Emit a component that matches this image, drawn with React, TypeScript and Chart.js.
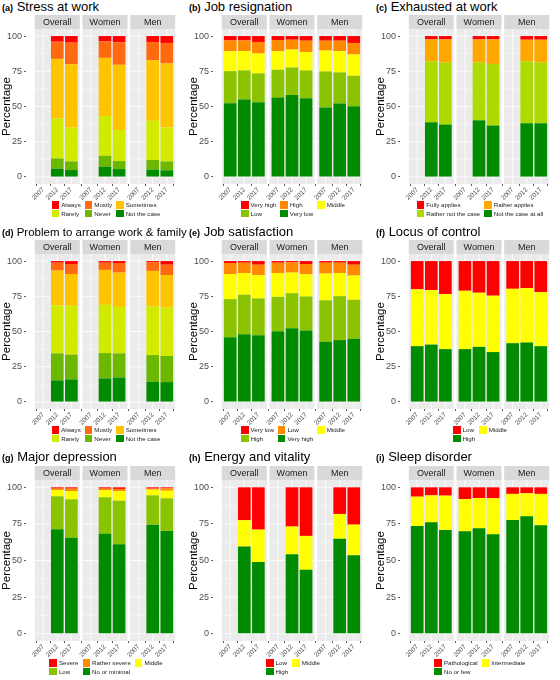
import React, { useEffect, useRef } from "react";
import { Chart, registerables } from "chart.js";

Chart.register(...registerables);

const FONT = '"Liberation Sans", Arial, Helvetica, sans-serif';

const facets = ["Overall", "Women", "Men"];
const years = ["2007", "2012", "2017"];
const yTicks = [0, 25, 50, 75, 100];
const yMinor = [12.5, 37.5, 62.5, 87.5];

// every row: Overall 2007/2012/2017, Women 2007/2012/2017, Men 2007/2012/2017
const stressLevels = ["Always", "Mostly", "Sometimes", "Rarely", "Never", "Not the case"];
const stressValues = [
  [null, 4.0, 4.7, null, 3.8, 4.5, null, 4.2, 4.9],
  [null, 12.2, 15.3, null, 11.7, 15.9, null, 12.9, 14.6],
  [null, 42.3, 45.0, null, 41.3, 46.3, null, 43.0, 45.3],
  [null, 28.4, 24.0, null, 28.2, 22.0, null, 27.9, 24.2],
  [null, 7.2, 6.1, null, 7.7, 5.7, null, 6.8, 6.3],
  [null, 5.9, 4.9, null, 7.3, 5.6, null, 5.2, 4.7],
];

const resignLevels = ["Very high", "High", "Middle", "Low", "Very low"];
const resignValues = [
  [3.1, 3.1, 4.2, 2.8, 2.6, 3.3, 3.3, 3.3, 4.9],
  [7.7, 7.5, 8.2, 8.0, 7.0, 8.0, 7.0, 7.5, 8.2],
  [14.1, 13.8, 14.1, 13.1, 12.7, 13.1, 14.8, 15.0, 15.1],
  [22.8, 20.7, 20.4, 19.8, 19.5, 19.7, 25.6, 22.1, 21.6],
  [52.3, 54.9, 53.1, 56.3, 58.2, 55.9, 49.3, 52.1, 50.2],
];

const exhaustLevels = ["Fully applies", "Rather applies", "Rather not the case", "Not the case at all"];
const exhaustValues = [
  [null, 2.4, 2.4, null, 2.4, 2.4, null, 2.6, 2.6],
  [null, 15.5, 16.4, null, 16.4, 17.4, null, 15.3, 16.0],
  [null, 43.3, 44.0, null, 41.0, 43.7, null, 44.0, 43.3],
  [null, 38.8, 37.2, null, 40.2, 36.5, null, 38.1, 38.1],
];

const familyLevels = ["Always", "Mostly", "Sometimes", "Rarely", "Never", "Not the case"];
const familyValues = [
  [null, 1.2, 2.1, null, 1.2, 1.4, null, 0.9, 2.6],
  [null, 5.6, 7.1, null, 5.1, 6.8, null, 6.1, 7.3],
  [null, 24.7, 22.5, null, 24.7, 24.4, null, 25.2, 23.0],
  [null, 34.0, 34.7, null, 34.3, 32.9, null, 34.5, 34.5],
  [null, 19.2, 17.6, null, 18.0, 17.1, null, 19.0, 18.5],
  [null, 15.3, 16.0, null, 16.7, 17.4, null, 14.3, 14.1],
];

const satisLevels = ["Very low", "Low", "Middle", "High", "Very high"];
const satisValues = [
  [1.4, 1.2, 2.6, 1.2, 0.9, 2.1, 1.2, 1.2, 2.6],
  [7.8, 7.3, 7.5, 7.3, 7.3, 7.3, 7.7, 7.3, 7.7],
  [17.8, 15.4, 16.4, 16.9, 14.6, 15.7, 19.0, 16.4, 17.2],
  [27.0, 28.0, 26.1, 24.4, 24.9, 24.2, 29.4, 31.2, 27.7],
  [46.0, 48.1, 47.4, 50.2, 52.3, 50.7, 42.7, 43.9, 44.8],
];

const locusLevels = ["Low", "Middle", "High"];
const locusValues = [
  [20.1, 20.6, 23.4, 21.1, 22.5, 24.6, 19.7, 19.2, 22.0],
  [40.3, 38.7, 39.1, 41.4, 38.4, 40.0, 38.6, 38.6, 38.4],
  [39.6, 40.7, 37.5, 37.5, 39.1, 35.4, 41.7, 42.2, 39.6],
];

const deprLevels = ["Severe", "Rather severe", "Middle", "Low", "No or minimal"];
const deprValues = [
  [null, 0.9, 0.9, null, 0.9, 1.1, null, 0.9, 0.7],
  [null, 0.9, 1.6, null, 1.1, 1.6, null, 0.7, 1.6],
  [null, 4.3, 5.7, null, 4.8, 6.4, null, 3.9, 5.2],
  [null, 22.5, 26.3, null, 25.0, 29.8, null, 20.0, 22.3],
  [null, 71.4, 65.5, null, 68.2, 61.1, null, 74.5, 70.2],
];

const energyLevels = ["Low", "Middle", "High"];
const energyValues = [
  [null, 22.5, 28.9, null, 26.8, 33.2, null, 18.2, 25.5],
  [null, 18.0, 22.2, null, 18.9, 23.2, null, 17.0, 20.9],
  [null, 59.5, 48.9, null, 54.3, 43.6, null, 64.8, 53.6],
];

const sleepLevels = ["Pathological", "Intermediate", "No or few"];
const sleepValues = [
  [6.4, 5.5, 5.7, 8.0, 7.3, 7.5, 4.5, 4.1, 4.5],
  [20.0, 18.4, 23.4, 22.0, 20.7, 24.5, 17.8, 15.7, 21.4],
  [73.6, 76.1, 70.9, 70.0, 72.0, 68.0, 77.7, 80.2, 74.1],
];

const sixColors = ["#FF0000", "#FF6A10", "#FFC400", "#D2EA00", "#6CB800", "#008B00"];
const fiveColors = ["#FF0000", "#FF8A00", "#FFFF00", "#8AC300", "#008B00"];
const fourColors = ["#FF0000", "#FFA800", "#AEDA00", "#008B00"];
const threeColors = ["#FF0000", "#FFFF00", "#008B00"];

const panels = [
  { tag: "(a)", title: "Stress at work", levels: stressLevels, values: stressValues, colors: sixColors, cols: 3, titleSize: 13 },
  { tag: "(b)", title: "Job resignation", levels: resignLevels, values: resignValues, colors: fiveColors, cols: 3, titleSize: 13 },
  { tag: "(c)", title: "Exhausted at work", levels: exhaustLevels, values: exhaustValues, colors: fourColors, cols: 2, titleSize: 13 },
  { tag: "(d)", title: "Problem to arrange work & family", levels: familyLevels, values: familyValues, colors: sixColors, cols: 3, titleSize: 11.5 },
  { tag: "(e)", title: "Job satisfaction", levels: satisLevels, values: satisValues, colors: fiveColors, cols: 3, titleSize: 13 },
  { tag: "(f)", title: "Locus of control", levels: locusLevels, values: locusValues, colors: threeColors, cols: 2, titleSize: 13 },
  { tag: "(g)", title: "Major depression", levels: deprLevels, values: deprValues, colors: fiveColors, cols: 3, titleSize: 13 },
  { tag: "(h)", title: "Energy and vitality", levels: energyLevels, values: energyValues, colors: threeColors, cols: 2, titleSize: 13 },
  { tag: "(i)", title: "Sleep disorder", levels: sleepLevels, values: sleepValues, colors: threeColors, cols: 2, titleSize: 13 },
];

const PANEL_W = 186;
const colLefts = [0, 187, 374];
const rowLayouts = [
  { top: 0, height: 225, canvasTop: 14, canvasH: 191, legendTop: 201 },
  { top: 225, height: 225, canvasTop: 14, canvasH: 191, legendTop: 201 },
  { top: 450, height: 230, canvasTop: 15, canvasH: 197, legendTop: 209 },
];

const STRIP_H = 14;
const X_AXIS_H = 21;
const FACET_STEP = 3.39; // 3.2 units of panel + the spacing between panels
const xPos = facets.flatMap((_, f) => years.map((_, i) => f * FACET_STEP + i));

const yearFor = (v: number) => {
  const j = xPos.findIndex((p) => Math.abs(p - v) < 1e-6);
  return j < 0 ? "" : years[j % 3];
};

const facetPlugin = {
  id: "facets",
  beforeDraw(chart: any) {
    const { ctx, chartArea, scales } = chart;
    const { top, bottom } = chartArea;
    const x = scales.x;
    const y = scales.y;
    const line = (x1: number, y1: number, x2: number, y2: number) => {
      ctx.beginPath();
      ctx.moveTo(x1, y1);
      ctx.lineTo(x2, y2);
      ctx.stroke();
    };
    ctx.save();
    facets.forEach((name, f) => {
      const l = x.getPixelForValue(f * FACET_STEP - 0.6);
      const r = x.getPixelForValue(f * FACET_STEP + 2.6);
      ctx.fillStyle = "#EBEBEB";
      ctx.fillRect(l, top, r - l, bottom - top);
      ctx.strokeStyle = "#FFFFFF";
      ctx.lineWidth = 0.4;
      yMinor.forEach((v) => {
        const py = y.getPixelForValue(v);
        line(l, py, r, py);
      });
      ctx.lineWidth = 0.8;
      yTicks.forEach((v) => {
        const py = y.getPixelForValue(v);
        line(l, py, r, py);
      });
      years.forEach((_, i) => {
        const px = x.getPixelForValue(f * FACET_STEP + i);
        line(px, top, px, bottom);
      });
      ctx.fillStyle = "#D9D9D9";
      ctx.fillRect(l, top - STRIP_H, r - l, STRIP_H);
      ctx.fillStyle = "#1A1A1A";
      ctx.font = `9px ${FONT}`;
      ctx.textAlign = "center";
      ctx.textBaseline = "middle";
      ctx.fillText(name, (l + r) / 2, top - STRIP_H / 2 + 0.5);
    });
    ctx.restore();
  },
};

function Panel({ panel, left, layout }: any) {
  const ref = useRef<HTMLCanvasElement>(null);

  useEffect(() => {
    if (!ref.current) return;
    const datasets = panel.levels
      .map((level: string, k: number) => ({
        label: level,
        data: panel.values[k].flatMap((v: number | null, j: number) =>
          v === null ? [] : [{ x: xPos[j], y: v }]
        ),
        backgroundColor: panel.colors[k],
        borderWidth: 0,
        categoryPercentage: 1,
        barPercentage: 0.9,
      }))
      .reverse();

    const grid = {
      drawOnChartArea: false,
      tickLength: 2,
      tickColor: "#333333",
      lineWidth: 0.8,
    };

    const chart = new Chart(ref.current, {
      type: "bar",
      data: { datasets },
      options: {
        animation: false,
        responsive: true,
        maintainAspectRatio: false,
        layout: { padding: { top: STRIP_H + 1, right: 2, left: 0, bottom: 0 } },
        plugins: { legend: { display: false }, tooltip: { enabled: false } },
        scales: {
          x: {
            type: "linear",
            stacked: true,
            bounds: "data",
            min: -0.6,
            max: 2 * FACET_STEP + 2.6,
            grid,
            border: { display: false },
            afterBuildTicks: (s: any) => {
              s.ticks = xPos.map((value) => ({ value }));
            },
            afterFit: (s: any) => {
              s.height = X_AXIS_H;
              s.paddingLeft = 0;
              s.paddingRight = 0;
            },
            ticks: {
              autoSkip: false,
              minRotation: 45,
              maxRotation: 45,
              padding: 0,
              color: "#4D4D4D",
              font: { family: FONT, size: 6.5 },
              callback: (v: any) => yearFor(Number(v)),
            },
          },
          y: {
            type: "linear",
            stacked: true,
            bounds: "data",
            min: -5,
            max: 105,
            grid,
            border: { display: false },
            afterBuildTicks: (s: any) => {
              s.ticks = yTicks.map((value) => ({ value }));
            },
            afterFit: (s: any) => {
              s.width = 26;
              s.paddingTop = 0;
              s.paddingBottom = 0;
            },
            ticks: {
              padding: 2,
              color: "#4D4D4D",
              font: { family: FONT, size: 9 },
              callback: (v: any) => String(v),
            },
            title: {
              display: true,
              text: "Percentage",
              color: "#000000",
              font: { family: FONT, size: 11.5 },
              padding: 0,
            },
          },
        },
      },
      plugins: [facetPlugin],
    } as any);

    return () => {
      chart.destroy();
    };
  }, [panel]);

  return (
    <div style={{ position: "absolute", left, top: layout.top, width: PANEL_W, height: layout.height }}>
      <div
        style={{
          position: "absolute",
          left: 2,
          top: 0,
          fontSize: panel.titleSize,
          lineHeight: "14px",
          whiteSpace: "nowrap",
          color: "#000",
        }}
      >
        <span style={{ fontWeight: "bold", fontSize: 9 }}>{panel.tag}</span> {panel.title}
      </div>
      <div
        style={{
          position: "absolute",
          left: 0,
          top: layout.canvasTop,
          width: PANEL_W,
          height: layout.canvasH,
        }}
      >
        <canvas ref={ref} />
      </div>
      <div
        style={{
          position: "absolute",
          left: 26,
          right: 0,
          top: layout.legendTop,
          display: "flex",
          justifyContent: "center",
        }}
      >
        <div
          style={{
            display: "grid",
            gridTemplateColumns: `repeat(${panel.cols}, auto)`,
            columnGap: 4,
            rowGap: 1,
          }}
        >
          {panel.levels.map((level: string, k: number) => (
            <div key={level} style={{ display: "flex", alignItems: "center", height: 7.5 }}>
              <span
                style={{
                  width: 7.5,
                  height: 7.5,
                  background: panel.colors[k],
                  marginRight: 2,
                  flex: "none",
                }}
              />
              <span
                style={{
                  fontSize: 6.2,
                  lineHeight: "7.5px",
                  whiteSpace: "nowrap",
                  color: "#1A1A1A",
                }}
              >
                {level}
              </span>
            </div>
          ))}
        </div>
      </div>
    </div>
  );
}

export default function App() {
  useEffect(() => {
    document.body.style.margin = "0";
  }, []);

  return (
    <div
      style={{
        position: "relative",
        width: 560,
        height: 680,
        background: "#FFFFFF",
        fontFamily: FONT,
        overflow: "hidden",
      }}
    >
      {panels.map((p, i) => (
        <Panel
          key={p.tag}
          panel={p}
          left={colLefts[i % 3]}
          layout={rowLayouts[Math.floor(i / 3)]}
        />
      ))}
    </div>
  );
}
